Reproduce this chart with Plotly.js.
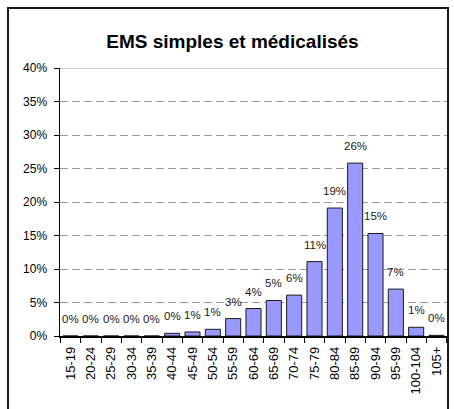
<!DOCTYPE html>
<html>
<head>
<meta charset="utf-8">
<script src="https://cdn.plot.ly/plotly-3.0.1.min.js"></script>
<style>
html,body{margin:0;padding:0;background:#fff;}
#wrap{position:relative;width:454px;height:409px;overflow:hidden;}
#chart{position:absolute;left:0;top:0;width:454px;height:409px;}
#frame{position:absolute;left:7px;top:7px;width:438px;height:420px;border:2px solid #1a1a1a;pointer-events:none;}
</style>
</head>
<body>
<div id="wrap"><div id="chart"></div><div id="frame"></div></div>
<script>
const categories = ["15-19","20-24","25-29","30-34","35-39","40-44","45-49","50-54","55-59","60-64","65-69","70-74","75-79","80-84","85-89","90-94","95-99","100-104","105+"];
const values = [0, 0, 0, 0, 0, 0.4, 0.6, 1.0, 2.6, 4.1, 5.3, 6.1, 11.1, 19.1, 25.8, 15.3, 7.0, 1.3, 0.1];
const labels = ["0%","0%","0%","0%","0%","0%","1%","1%","3%","4%","5%","6%","11%","19%","26%","15%","7%","1%","0%"];
const yTicks = [0,5,10,15,20,25,30,35,40];

const font = "Arial, 'Liberation Sans', sans-serif";

const trace = {
  type: 'bar',
  x: categories,
  y: values,
  marker: {color: '#9999FF', line: {color: '#1a1a1a', width: 1}},
  hoverinfo: 'none'
};

const annotations = categories.map((c, i) => ({
  x: c, y: values[i], xref: 'x', yref: 'y',
  text: labels[i], showarrow: false,
  yanchor: 'bottom', yshift: 9,
  font: {family: font, size: 11.5, color: '#1a1a1a'}
}));

const layout = {
  width: 454, height: 409,
  margin: {l: 60, r: 7, t: 68, b: 73},
  paper_bgcolor: '#fff', plot_bgcolor: '#fff',
  showlegend: false,
  bargap: 0.26,
  title: {
    text: '<b>EMS simples et médicalisés</b>',
    font: {family: font, size: 19, color: '#000'},
    xref: 'container', yref: 'container',
    x: 0.512, y: 0.9, xanchor: 'center', yanchor: 'middle'
  },
  xaxis: {
    type: 'category',
    tickangle: -90,
    tickson: 'boundaries',
    ticks: 'outside', ticklen: 5, tickcolor: '#000', tickwidth: 1,
    showline: true, linecolor: '#000', linewidth: 1.5,
    showgrid: false, zeroline: false,
    tickfont: {family: font, size: 13, color: '#000'},
    ticklabelstandoff: 4
  },
  yaxis: {
    range: [0, 40],
    tickvals: yTicks,
    ticktext: yTicks.map(v => v + '%'),
    ticks: 'outside', ticklen: 5, tickcolor: '#000', tickwidth: 1,
    showline: true, linecolor: '#000', linewidth: 1.5,
    showgrid: true, gridcolor: '#9a9a9a', gridwidth: 1, griddash: '8px,4px',
    zeroline: false,
    tickfont: {family: font, size: 12, color: '#000'},
    ticklabelstandoff: 4
  },
  shapes: [{
    type: 'line', xref: 'paper', yref: 'y',
    x0: 0, x1: 1, y0: 40, y1: 40,
    line: {color: '#9a9a9a', width: 1}
  }],
  annotations: annotations
};

Plotly.newPlot('chart', [trace], layout, {displayModeBar: false, staticPlot: true});
</script>
</body>
</html>
